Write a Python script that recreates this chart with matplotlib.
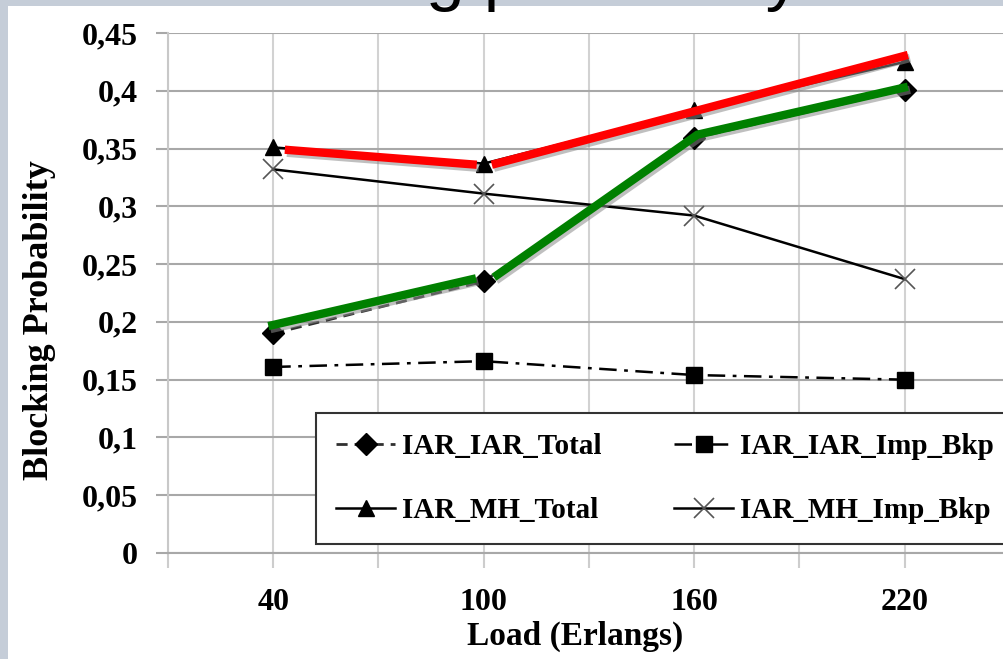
import matplotlib
matplotlib.use('Agg')
from matplotlib import pyplot as plt
from matplotlib import patheffects as pe
from matplotlib.patches import Rectangle

# data
loads = [40, 100, 160, 220]
iar_iar_total = [0.190, 0.235, 0.359, 0.401]
iar_iar_imp_bkp = [0.161, 0.166, 0.154, 0.150]
iar_mh_total = [0.351, 0.337, 0.383, 0.425]
iar_mh_imp_bkp = [0.332, 0.311, 0.292, 0.237]

# hand drawn highlight strokes on the slide (red over MH total, green over IAR total)
red_segments_x = [[43.3, 98.0], [102.3, 220.9]]
red_segments_y = [[0.349, 0.336], [0.336, 0.431]]
green_segments_x = [[38.6, 97.8], [102.9, 160.9, 220.9]]
green_segments_y = [[0.1964, 0.2377], [0.2386, 0.362, 0.4035]]

x_ticks = [10, 40, 70, 100, 130, 160, 190, 220, 250]
x_tick_labels = ['', '40', '', '100', '', '160', '', '220', '']
y_ticks = [0, 0.05, 0.1, 0.15, 0.2, 0.25, 0.3, 0.35, 0.4, 0.45]
y_tick_labels = ['0', '0,05', '0,1', '0,15', '0,2', '0,25', '0,3', '0,35', '0,4', '0,45']

W, H = 1004, 659
serif = 'Liberation Serif'

fig = plt.figure(figsize=(W / 100, H / 100), dpi=100)
fig.patch.set_facecolor('#C5CDD8')
fig.patches.append(Rectangle((8 / W, 0), 1, (H - 6) / H, transform=fig.transFigure,
                             facecolor='white', edgecolor='none', zorder=-5))

# slide title, mostly cut off at the top
fig.text(800 / W, 1 + 2 / H, 'Blocking probability', fontsize=50,
         family='Liberation Sans', ha='right', va='baseline', color='black')

ax = fig.add_axes([168 / W, 1 - 553 / H, (1010 - 168) / W, (553 - 33) / H])
ax.set_xlim(10, 250)
ax.set_ylim(0, 0.45)

# data series
l1, = ax.plot(loads, iar_iar_total, color='#303030', lw=2, ls=(0, (4, 2.5)),
              marker='D', ms=11, mfc='black', mec='black', label='IAR_IAR_Total', zorder=4)
l2, = ax.plot(loads, iar_iar_imp_bkp, color='black', lw=1.8, ls=(0, (7, 3, 1.5, 3)),
              marker='s', ms=12, mfc='black', mec='black', label='IAR_IAR_Imp_Bkp', zorder=4)
l3, = ax.plot(loads, iar_mh_total, color='black', lw=1.8, ls='-',
              marker='^', ms=12, mfc='black', mec='black', label='IAR_MH_Total', zorder=4)
l4, = ax.plot(loads, iar_mh_imp_bkp, color='black', lw=1.8, ls='-',
              marker='x', ms=14, mew=1.2, mec='#555555', label='IAR_MH_Imp_Bkp', zorder=4)

shadow = [pe.SimpleLineShadow(offset=(1.5, -2.2), shadow_color='#8c8c8c', alpha=0.55), pe.Normal()]
for xs, ys in zip(red_segments_x, red_segments_y):
    ax.plot(xs, ys, color='#FF0000', lw=6, solid_capstyle='butt', zorder=6, path_effects=shadow)
for xs, ys in zip(green_segments_x, green_segments_y):
    ax.plot(xs, ys, color='#008000', lw=6, solid_capstyle='butt', solid_joinstyle='miter',
            zorder=6, path_effects=shadow)

# axes styling
ax.set_xticks(x_ticks)
ax.set_xticklabels(x_tick_labels)
ax.set_yticks(y_ticks)
ax.set_yticklabels(y_tick_labels)
for lab in ax.get_xticklabels() + ax.get_yticklabels():
    lab.set_family(serif)
    lab.set_fontweight('bold')
ax.tick_params(axis='y', direction='out', length=9, width=1.5, color='#A8A8A8',
               labelsize=23, pad=13)
ax.tick_params(axis='x', direction='out', length=11, width=1.5, color='#CDCDCD',
               labelsize=23, pad=14)
ax.yaxis.grid(True, color='#A8A8A8', lw=1.5)
ax.xaxis.grid(True, color='#D2D2D2', lw=1.5)
ax.set_axisbelow(True)
for s in ['top', 'right']:
    ax.spines[s].set_visible(False)
ax.spines['left'].set_color('#C8C8C8')
ax.spines['left'].set_linewidth(1.5)
ax.spines['bottom'].set_color('#A8A8A8')
ax.spines['bottom'].set_linewidth(1.5)

fig.text(40 / W, 1 - 320 / H, 'Blocking Probability', rotation=90, ha='center', va='center',
         fontsize=26, family=serif, fontweight='bold')
fig.text(575 / W, 1 - 645 / H, 'Load (Erlangs)', ha='center', va='baseline',
         fontsize=24, family=serif, fontweight='bold')

# legend fills row by row in the reference, so order handles column-wise
leg = ax.legend(handles=[l1, l3, l2, l4], ncol=2, loc='upper left',
                bbox_to_anchor=(316 / W, 1 - 413 / H),
                bbox_transform=fig.transFigure, fancybox=False, framealpha=1,
                edgecolor='#333333', prop={'family': serif, 'weight': 'bold', 'size': 21},
                handlelength=2.0, handletextpad=0.25, labelspacing=1.25, borderpad=0.7,
                borderaxespad=0, columnspacing=2.5)
leg.get_frame().set_linewidth(1.5)
leg.set_zorder(3)

fig.savefig('out.png', dpi=100, facecolor=fig.get_facecolor())
